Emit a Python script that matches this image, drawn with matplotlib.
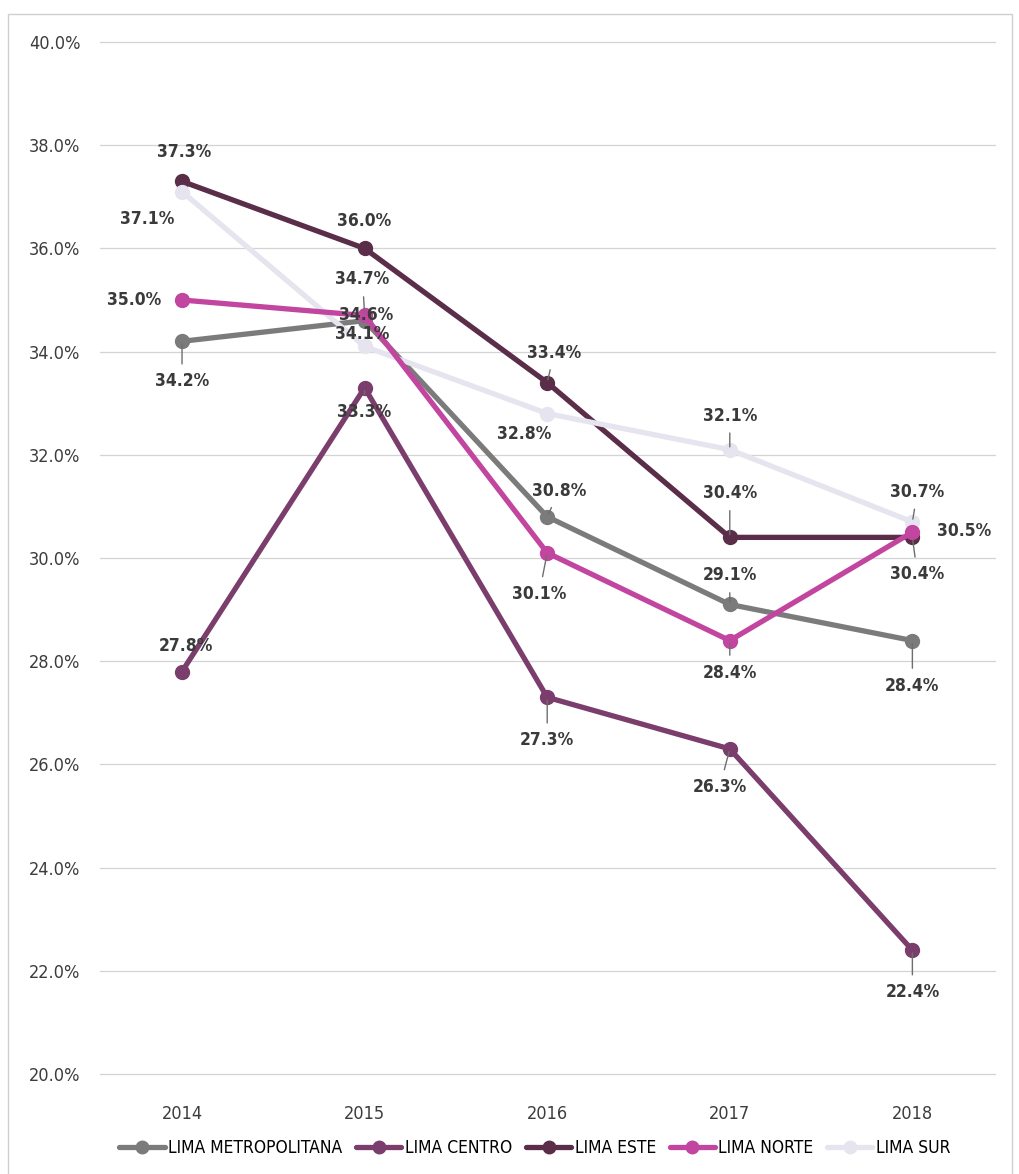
import matplotlib.pyplot as plt
from matplotlib.patches import Rectangle

# -----------------------------
# Data
# -----------------------------
years = ["2014", "2015", "2016", "2017", "2018"]

lima_metropolitana = [34.2, 34.6, 30.8, 29.1, 28.4]
lima_centro = [27.8, 33.3, 27.3, 26.3, 22.4]
lima_este = [37.3, 36.0, 33.4, 30.4, 30.4]
lima_norte = [35.0, 34.7, 30.1, 28.4, 30.5]
lima_sur = [37.1, 34.1, 32.8, 32.1, 30.7]

series_names = ["LIMA METROPOLITANA", "LIMA CENTRO", "LIMA ESTE", "LIMA NORTE", "LIMA SUR"]
y_ticks = [20, 22, 24, 26, 28, 30, 32, 34, 36, 38, 40]

# -----------------------------
# Style
# -----------------------------
plt.rcParams["font.family"] = ["DejaVu Sans"]
plt.rcParams["font.stretch"] = "condensed"

colors = {
    "LIMA METROPOLITANA": "#7b7b7b",
    "LIMA CENTRO": "#7a3d6c",
    "LIMA ESTE": "#5a2d49",
    "LIMA NORTE": "#c2459f",
    "LIMA SUR": "#e6e4ee",
}

# label offsets in pixels (dx, dy) per series / year
label_offsets = {
    "LIMA METROPOLITANA": [(0, -40), (2, 6), (12, 26), (0, 29), (0, -45)],
    "LIMA CENTRO": [(4, 26), (0, -24), (0, -43), (-10, -38), (0, -42)],
    "LIMA ESTE": [(2, 29), (0, 27), (7, 30), (0, 44), (5, -37)],
    "LIMA NORTE": [(-48, 0), (-2, 36), (-8, -41), (0, -32), (52, 1)],
    "LIMA SUR": [(-35, -27), (-2, 12), (-23, -20), (0, 34), (5, 30)],
}
leaders = {
    "LIMA METROPOLITANA": [True, False, True, True, True],
    "LIMA CENTRO": [False, True, True, True, True],
    "LIMA ESTE": [False, False, True, True, True],
    "LIMA NORTE": [False, True, True, True, False],
    "LIMA SUR": [False, False, False, True, True],
}

data = {
    "LIMA METROPOLITANA": lima_metropolitana,
    "LIMA CENTRO": lima_centro,
    "LIMA ESTE": lima_este,
    "LIMA NORTE": lima_norte,
    "LIMA SUR": lima_sur,
}

# -----------------------------
# Plot
# -----------------------------
fig = plt.figure(figsize=(10.19, 11.74), dpi=100)
ax = fig.add_axes([0.098, 0.0852, 0.878, 0.8790])

x = list(range(len(years)))
draw_order = ["LIMA METROPOLITANA", "LIMA CENTRO", "LIMA ESTE", "LIMA SUR", "LIMA NORTE"]
for name in draw_order:
    ax.plot(x, data[name], color=colors[name], lw=3.8, marker="o", ms=10,
            label=name, zorder=3, solid_capstyle="round")

for name in series_names:
    for i, v in enumerate(data[name]):
        dx, dy = label_offsets[name][i]
        arrow = None
        if leaders[name][i]:
            arrow = dict(arrowstyle="-", color="#6e6e6e", lw=1.0, shrinkA=4, shrinkB=2)
        ax.annotate(f"{v:.1f}%", xy=(i, v), xytext=(dx, dy), textcoords="offset pixels",
                    ha="center", va="center", fontsize=12.5, fontweight="bold",
                    color="#3a3a3a", arrowprops=arrow, zorder=5)

ax.set_xlim(-0.45, 4.45)
ax.set_ylim(20, 40)
ax.set_xticks(x)
ax.set_xticklabels(years)
ax.set_yticks(y_ticks)
ax.set_yticklabels([f"{t:.1f}%" for t in y_ticks])
ax.tick_params(axis="both", length=0, labelsize=13, labelcolor="#3c3c3c")
ax.tick_params(axis="x", pad=22)
ax.tick_params(axis="y", pad=14)
ax.grid(axis="y", color="#d4d4d4", lw=0.9)
for gl in ax.get_ygridlines():
    gl.set_clip_on(False)
ax.set_axisbelow(True)
for s in ax.spines.values():
    s.set_visible(False)

handles, labels = ax.get_legend_handles_labels()
order = [labels.index(n) for n in series_names]
fig.legend([handles[i] for i in order], [labels[i] for i in order],
           loc="center", bbox_to_anchor=(0.525, 0.022), ncol=5, frameon=False,
           fontsize=12.5, handlelength=2.6, handletextpad=0.2, columnspacing=0.8,
           markerscale=0.9)

# outer frame
fig.patches.append(Rectangle((0.008, -0.01), 0.985, 0.998, transform=fig.transFigure,
                             fill=False, edgecolor="#cfcfcf", lw=1.0))

fig.savefig("out.png", dpi=100)
